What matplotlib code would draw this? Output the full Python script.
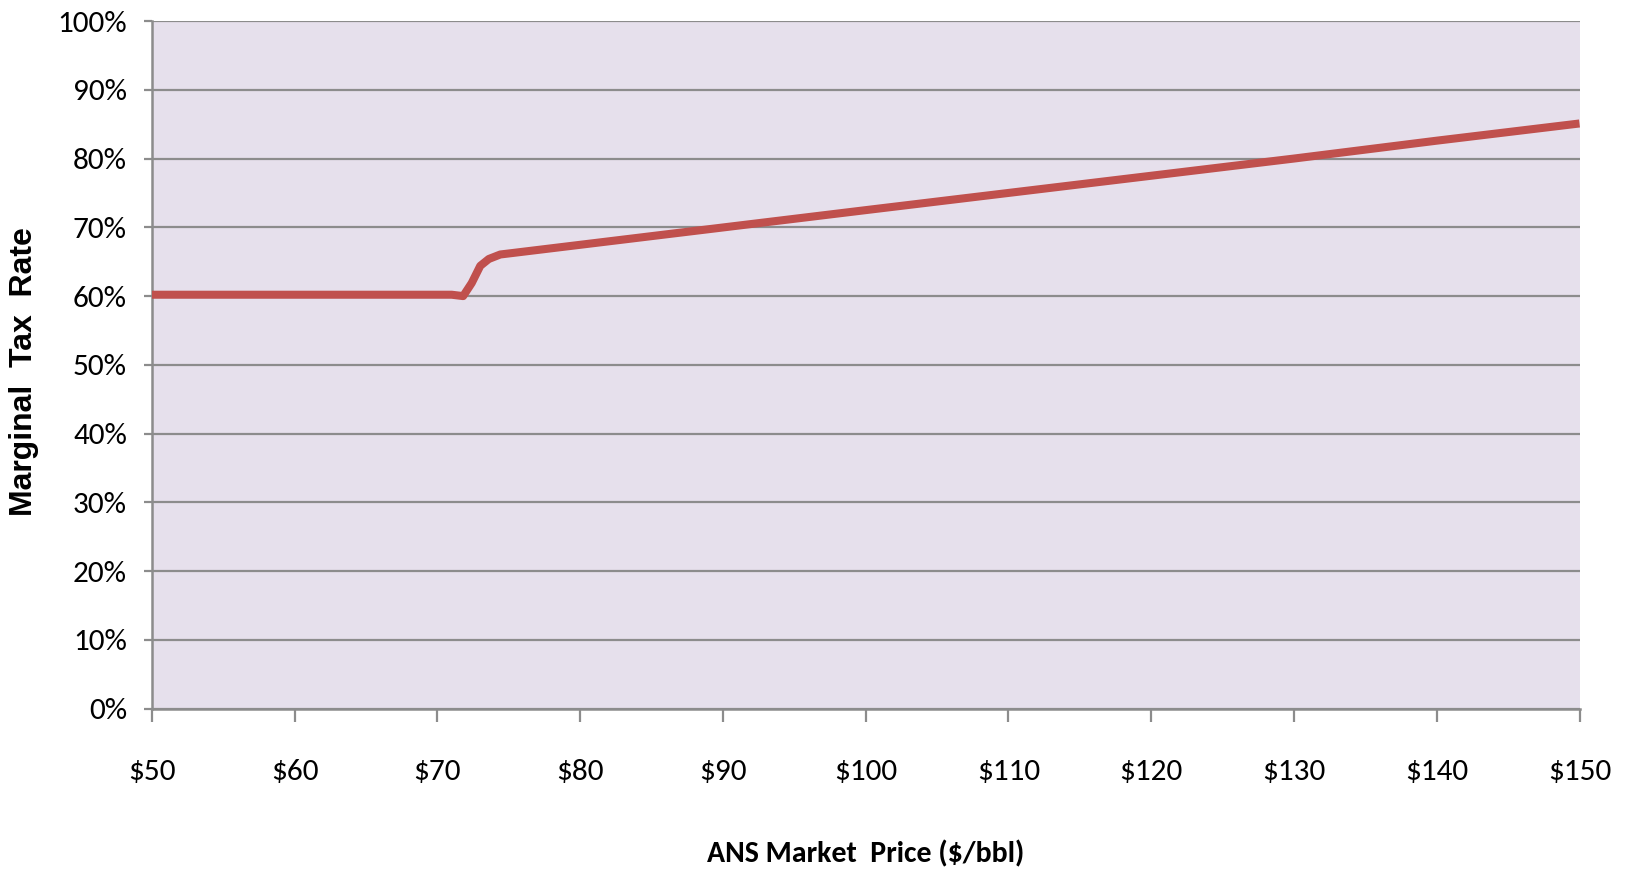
import matplotlib.pyplot as plt
from matplotlib.ticker import FuncFormatter

# ANS market price ($/bbl) vs marginal tax rate (%)
price = [50, 55, 60, 65, 70, 71, 71.8, 72.4, 73, 73.6, 74.4, 75,
         80, 90, 100, 110, 120, 130, 140, 150]
tax_rate = [60.2, 60.2, 60.2, 60.2, 60.2, 60.2, 60.0, 61.9, 64.4, 65.4, 66.05, 66.2,
            67.46, 69.98, 72.5, 75.0, 77.5, 80.0, 82.6, 85.1]

x_ticks = list(range(50, 151, 10))
y_ticks = list(range(0, 101, 10))

tick_font = ["Carlito", "DejaVu Sans"]
grid_color = "#8C8C8C"

fig = plt.figure(figsize=(16.25, 8.75), dpi=100)
ax = fig.add_axes([0.0935, 0.19, 0.8785, 0.786])
ax.set_facecolor("#E6E0EC")

ax.plot(price, tax_rate, color="#C0504D", linewidth=5.8, solid_capstyle="butt",
        solid_joinstyle="round", zorder=3)

ax.set_xlim(50, 150)
ax.set_ylim(0, 100)
ax.set_xticks(x_ticks)
ax.set_yticks(y_ticks)
ax.xaxis.set_major_formatter(FuncFormatter(lambda v, p: f"${v:.0f}"))
ax.yaxis.set_major_formatter(FuncFormatter(lambda v, p: f"{v:.0f}%"))

ax.grid(axis="y", color=grid_color, linewidth=1.6, zorder=1)
ax.set_axisbelow(True)

for side in ("top", "right"):
    ax.spines[side].set_visible(False)
for side in ("left", "bottom"):
    ax.spines[side].set_color(grid_color)
    ax.spines[side].set_linewidth(1.8)

ax.tick_params(axis="x", direction="out", length=9, width=1.6, color=grid_color, pad=27)
ax.tick_params(axis="y", direction="out", length=6, width=1.6, color=grid_color, pad=12)
for lbl in ax.get_xticklabels() + ax.get_yticklabels():
    lbl.set_family(tick_font)
    lbl.set_fontsize(22.5)

ax.set_xlabel("ANS Market  Price ($/bbl)", family=tick_font, fontsize=21.5,
              fontweight="bold", labelpad=40)
ax.set_ylabel("Marginal  Tax  Rate", family=["Liberation Sans", "DejaVu Sans"],
              fontsize=23, fontweight="bold")
ax.yaxis.set_label_coords(-0.079, 0.49)

fig.savefig("out.png", dpi=100, facecolor="white")
